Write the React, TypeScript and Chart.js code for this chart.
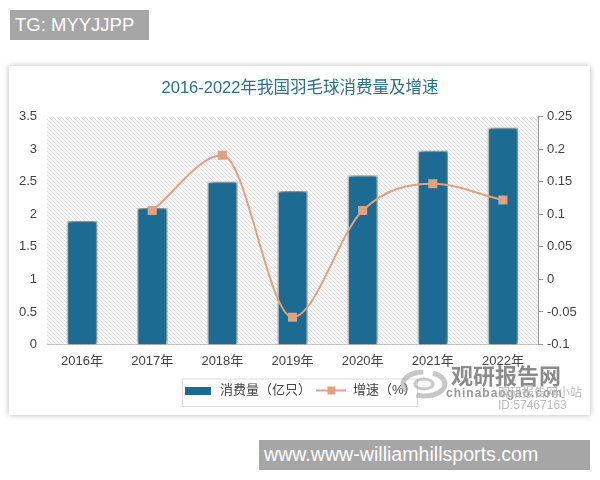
import { useEffect, useRef } from 'react'
import { Chart, registerables } from 'chart.js'

Chart.register(...registerables)

const years = ['2016年', '2017年', '2018年', '2019年', '2020年', '2021年', '2022年']
const consumption = [1.9, 2.1, 2.5, 2.36, 2.6, 2.98, 3.33]
const growth = [null, 0.106, 0.191, -0.058, 0.106, 0.147, 0.122]

const chartTitle = '2016-2022年我国羽毛球消费量及增速'
const barLabel = '消费量（亿只）'
const lineLabel = '增速（%）'

const BLUE = '#1b6b93'
const ORANGE = '#e0a184'
const CJK = '"Liberation Sans", "Noto Sans CJK SC", sans-serif'

function hatchPattern(ctx: CanvasRenderingContext2D) {
  const c = document.createElement('canvas')
  c.width = 4
  c.height = 4
  const p = c.getContext('2d')!
  p.fillStyle = '#f9f9f9'
  p.fillRect(0, 0, 4, 4)
  p.strokeStyle = '#dcdcdc'
  p.lineWidth = 1
  p.beginPath()
  p.moveTo(-1, -1)
  p.lineTo(5, 5)
  p.moveTo(-1, 3)
  p.lineTo(1, 5)
  p.moveTo(3, -1)
  p.lineTo(5, 1)
  p.stroke()
  return ctx.createPattern(c, 'repeat')!
}

function barSwatch() {
  const c = document.createElement('canvas')
  c.width = 26
  c.height = 8
  const p = c.getContext('2d')!
  p.fillStyle = BLUE
  p.fillRect(0, 0, 26, 8)
  return c
}

function lineSwatch() {
  const c = document.createElement('canvas')
  c.width = 30
  c.height = 10
  const p = c.getContext('2d')!
  p.fillStyle = ORANGE
  p.fillRect(0, 4, 30, 2)
  p.fillRect(11, 1, 8, 8)
  return c
}

const plotBackground = {
  id: 'plotBackground',
  beforeDatasetsDraw(chart: Chart) {
    const { ctx, chartArea: a } = chart
    ctx.save()
    ctx.fillStyle = hatchPattern(ctx)
    ctx.fillRect(a.left, a.top, a.right - a.left, a.bottom - a.top)
    ctx.restore()
  },
  beforeDatasetDraw(chart: Chart, args: any) {
    if (args.index !== 0) return
    chart.ctx.save()
    chart.ctx.shadowColor = 'rgba(20,20,20,0.75)'
    chart.ctx.shadowBlur = 5
    chart.ctx.shadowOffsetX = 1
    chart.ctx.shadowOffsetY = -1
  },
  afterDatasetDraw(chart: Chart, args: any) {
    if (args.index !== 0) return
    chart.ctx.restore()
  },
  afterDraw(chart: Chart) {
    const boxes = (chart.legend as any).legendHitBoxes
    if (!boxes || !boxes.length) return
    const { ctx } = chart
    const left = boxes[0].left - 1
    const last = boxes[boxes.length - 1]
    ctx.save()
    ctx.strokeStyle = '#dcdcdc'
    ctx.lineWidth = 1
    ctx.strokeRect(left, chart.legend!.top + 0.5, last.left + last.width + 1 - left, chart.legend!.height - 1)
    ctx.restore()
  },
}

export default function App() {
  const canvasRef = useRef<HTMLCanvasElement>(null)

  useEffect(() => {
    if (!canvasRef.current) return
    const swatches = [barSwatch(), lineSwatch()]

    const chart = new Chart(canvasRef.current, {
      type: 'bar',
      data: {
        labels: years,
        datasets: [
          {
            type: 'bar',
            label: barLabel,
            data: consumption,
            yAxisID: 'y',
            backgroundColor: BLUE,
            borderColor: '#d3edf5',
            borderWidth: 1.5,
            borderSkipped: 'bottom',
            barPercentage: 0.62,
            categoryPercentage: 0.7,
            order: 2,
          },
          {
            type: 'line',
            label: lineLabel,
            data: growth,
            yAxisID: 'y1',
            borderColor: ORANGE,
            backgroundColor: ORANGE,
            borderWidth: 2,
            cubicInterpolationMode: 'monotone',
            pointStyle: 'rect',
            pointRadius: 5,
            order: 1,
          },
        ] as any,
      },
      options: {
        animation: false,
        responsive: false,
        layout: { padding: { left: 10, right: 10, top: 79, bottom: 73 } },
        plugins: {
          title: {
            display: true,
            text: chartTitle,
            color: '#2f6f88',
            font: { family: CJK, size: 16.5, weight: 'normal' },
            padding: { top: 0, bottom: 18 },
          },
          legend: {
            position: 'bottom',
            labels: {
              usePointStyle: true,
              pointStyleWidth: 30,
              boxHeight: 10,
              color: '#444',
              padding: 5.5,
              font: { family: CJK, size: 13 },
              generateLabels: (c: Chart) =>
                c.data.datasets.map((d, i) => ({
                  text: d.label as string,
                  datasetIndex: i,
                  pointStyle: swatches[i],
                  fontColor: '#444',
                  lineWidth: 0,
                })),
            },
          },
          tooltip: { enabled: false },
        },
        scales: {
          x: {
            grid: { display: false },
            border: { display: true, color: '#999' },
            ticks: { color: '#444', font: { family: CJK, size: 13 }, padding: 1, maxRotation: 0 },
            afterFit: (s: any) => {
              s.height = 34
            },
          },
          y: {
            position: 'left',
            min: 0,
            max: 3.5,
            grid: { display: false },
            border: { display: false },
            ticks: {
              stepSize: 0.5,
              color: '#444',
              font: { family: CJK, size: 13 },
              padding: 2,
              callback: (v: any) => String(v),
            },
            afterFit: (s: any) => {
              s.width = 37
            },
          },
          y1: {
            position: 'right',
            min: -0.1,
            max: 0.25,
            grid: { drawOnChartArea: false, drawTicks: true, tickLength: 5, color: '#999' },
            border: { display: true, color: '#999' },
            ticks: {
              stepSize: 0.05,
              color: '#444',
              font: { family: CJK, size: 13 },
              padding: 4,
              callback: (v: any) => String(Number(Number(v).toFixed(2))),
            },
            afterFit: (s: any) => {
              s.width = 52
            },
          },
        },
      },
      plugins: [plotBackground],
    })

    return () => {
      chart.destroy()
    }
  }, [])

  return (
    <div style={{ position: 'absolute', left: 0, top: 0, width: 600, height: 480, background: '#fff', overflow: 'hidden', fontFamily: CJK }}>
      <div style={{ position: 'absolute', left: 9, top: 66, width: 581, height: 349, background: '#fff', boxShadow: '0 0 6px rgba(0,0,0,0.28)' }} />
      <canvas ref={canvasRef} width={600} height={480} style={{ position: 'absolute', left: 0, top: 0 }} />
      <div style={{ position: 'absolute', left: 10, top: 10, width: 139, height: 30, background: '#a6a6a6', color: '#fff', fontSize: 18.5, lineHeight: '30px', paddingLeft: 5, boxSizing: 'border-box', whiteSpace: 'nowrap' }}>TG: MYYJJPP</div>
      <div style={{ position: 'absolute', left: 259, top: 440, width: 331, height: 30, background: '#a6a6a6', color: '#fff', fontSize: 19.6, lineHeight: '29px', paddingLeft: 5, boxSizing: 'border-box', whiteSpace: 'nowrap' }}>www.www-williamhillsports.com</div>
      <svg style={{ position: 'absolute', left: 400, top: 366, opacity: 0.55 }} width={50} height={36} viewBox="0 0 50 36">
        <ellipse cx="24" cy="18" rx="21" ry="12" fill="none" stroke="#999" strokeWidth="5" strokeDasharray="34 10" />
        <ellipse cx="24" cy="18" rx="9" ry="5" fill="none" stroke="#999" strokeWidth="3" />
      </svg>
      <div style={{ position: 'absolute', left: 451, top: 361, color: '#777', fontSize: 22, fontWeight: 700, lineHeight: '26px', whiteSpace: 'nowrap', opacity: 0.85, fontFamily: '"Noto Sans CJK SC"' }}>观研报告网</div>
      <div style={{ position: 'absolute', left: 446, top: 386, color: '#999', fontSize: 12, fontWeight: 700, lineHeight: '14px', whiteSpace: 'nowrap', letterSpacing: 1 }}>chinabaogao.com</div>
      <div style={{ position: 'absolute', left: 498, top: 385, color: '#bbb', fontSize: 12, lineHeight: '14px', whiteSpace: 'nowrap', fontFamily: '"Noto Sans CJK SC"' }}>观研报告网小站</div>
      <div style={{ position: 'absolute', left: 498, top: 398, color: '#bbb', fontSize: 12, lineHeight: '14px', whiteSpace: 'nowrap' }}>ID:57467163</div>
    </div>
  )
}
